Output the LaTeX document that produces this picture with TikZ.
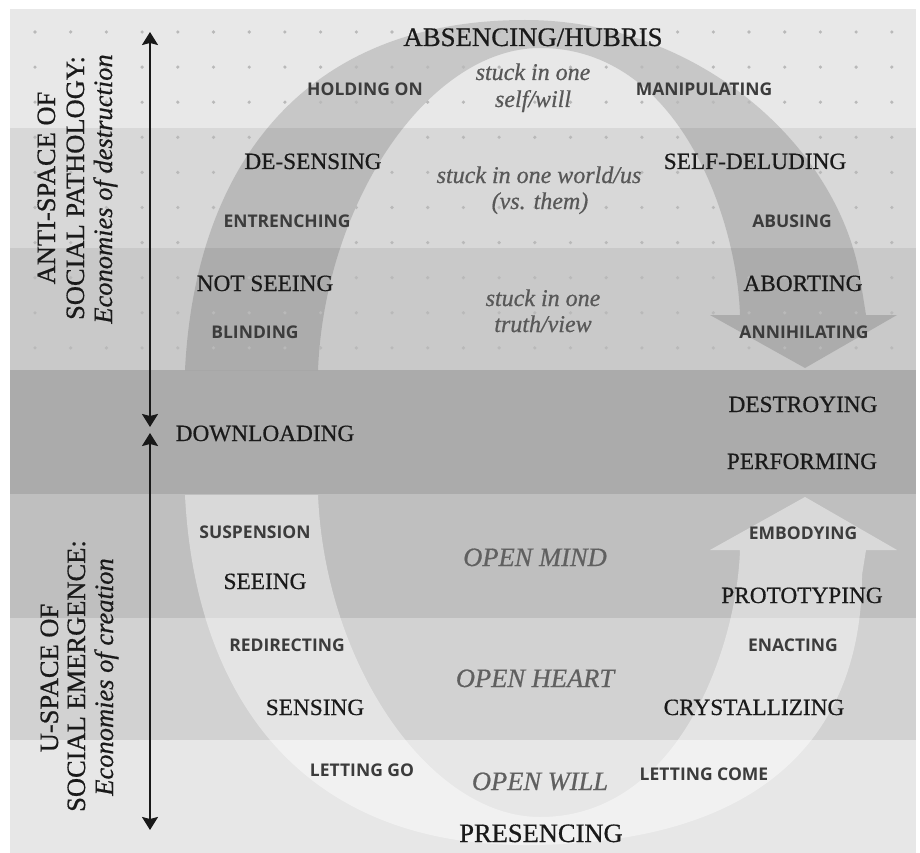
\documentclass[tikz,border=0pt]{standalone}
\usepackage{fontspec}
\setmainfont{Liberation Serif}[FakeBold=0.6]
\newfontfamily\labelsans{Open Sans}
\usetikzlibrary{arrows.meta}

\definecolor{bandA}{HTML}{E8E8E8}
\definecolor{bandB}{HTML}{D8D8D8}
\definecolor{bandC}{HTML}{C9C9C9}
\definecolor{bandD}{HTML}{ABABAB}
\definecolor{bandE}{HTML}{BFBFBF}
\definecolor{bandF}{HTML}{D2D2D2}
\definecolor{bandG}{HTML}{E7E7E7}
\definecolor{dotgray}{HTML}{B9B9B9}
\definecolor{capink}{HTML}{1A1A1A}
\definecolor{sansink}{HTML}{3C3C3C}
\definecolor{softink}{HTML}{585858}

\begin{document}
\begin{tikzpicture}[x=1pt,y=-1pt,
  serifcap/.style={font=\fontsize{23.3}{28}\selectfont, text=capink, anchor=base, inner sep=0pt},
  bigcap/.style={font=\fontsize{26.8}{30}\selectfont, text=capink, anchor=base, inner sep=0pt},
  sanscap/.style={font=\labelsans\bfseries\fontsize{17.5}{21}\selectfont, text=sansink, anchor=base, inner sep=0pt},
  stuckline/.style={font=\itshape\fontsize{24}{26}\selectfont, text=softink, anchor=base, inner sep=0pt},
  openline/.style={font=\itshape\fontsize{26.5}{30}\selectfont, text=softink!95, anchor=base, inner sep=0pt},
  sideline/.style={font=\fontsize{26.5}{30}\selectfont, text=capink, anchor=base, inner sep=0pt, rotate=90},
  sideital/.style={sideline, font=\itshape\fontsize{26.5}{30}\selectfont},
  axisarrow/.style={line width=2pt, draw=black!90,
    {Stealth[length=13pt,width=16pt,inset=2pt]}-{Stealth[length=13pt,width=16pt,inset=2pt]}}
]
\useasboundingbox (0,0) rectangle (920,853);
\fill[white] (0,0) rectangle (920,853);

% horizontal layers
\fill[bandA] (10,9)   rectangle (916,128);
\fill[bandB] (10,128) rectangle (916,248);
\fill[bandC] (10,248) rectangle (916,370);
\fill[bandD] (10,370) rectangle (916,494);
\fill[bandE] (10,494) rectangle (916,618);
\fill[bandF] (10,618) rectangle (916,740);
\fill[bandG] (10,740) rectangle (916,853);

% upper loop: arc bending over the top, ending in a downward arrow
\fill[black, opacity=0.14]
  (185,370) .. controls (195,170) and (300,20) .. (525,20)
  .. controls (700,20) and (845,150) .. (862,290)
  -- (866,315) -- (897,315) -- (805,368) -- (710,315) -- (740,315)
  .. controls (737,220) and (680,48) .. (540,48)
  .. controls (430,48) and (325,200) .. (318,370) -- cycle;

% lower loop: arc bending under the bottom, ending in an upward arrow
\fill[white, opacity=0.42]
  (185,495) .. controls (195,695) and (300,845) .. (525,845)
  .. controls (780,845) and (862,720) .. (862,575)
  -- (866,550) -- (897,550) -- (805,497) -- (710,550) -- (740,550)
  .. controls (737,645) and (680,817) .. (540,817)
  .. controls (430,817) and (325,665) .. (318,495) -- cycle;

% dot grid over the three upper layers
\foreach \i in {0,...,24}
  \foreach \j in {0,...,9}
    \fill[dotgray] ({35+35.7*\i},{32+35.1*\j}) circle[radius=1.8pt];

% vertical axes
\coordinate (antiTop) at (150,32);
\coordinate (antiBot) at (150,427);
\coordinate (uTop) at (150,433);
\coordinate (uBot) at (150,830);
\draw[axisarrow] (antiTop) -- (antiBot);
\draw[axisarrow] (uTop) -- (uBot);

% side titles
\node[sideline] (antiA) at (55,188) {ANTI-SPACE OF};
\node[sideline] (antiB) at (84,188) {SOCIAL PATHOLOGY:};
\node[sideital] (antiC) at (112,189) {Economies of destruction};
\node[sideline] (uA) at (58,678) {U-SPACE OF};
\node[sideline] (uB) at (85,676) {SOCIAL EMERGENCE:};
\node[sideital] (uC) at (113,677) {Economies of creation};

% top and bottom
\node[bigcap] (absencing) at (533,46) {ABSENCING/HUBRIS};
\node[bigcap, font=\fontsize{26.5}{30}\selectfont] (presencing) at (541,842) {PRESENCING};

% stages of the upper loop
\node[sanscap] (holding) at (365,96) {HOLDING ON};
\node[sanscap] (manip) at (704,96) {MANIPULATING};
\node[serifcap] (desensing) at (313,169) {DE-SENSING};
\node[serifcap] (selfdel) at (755,169) {SELF-DELUDING};
\node[sanscap] (entrench) at (287,227) {ENTRENCHING};
\node[sanscap] (abusing) at (792,227) {ABUSING};
\node[serifcap] (notseeing) at (265,291) {NOT SEEING};
\node[serifcap] (aborting) at (803,291) {ABORTING};
\node[sanscap] (blinding) at (255,338) {BLINDING};
\node[sanscap] (annihil) at (804,338) {ANNIHILATING};

% middle layer
\node[serifcap] (download) at (265,441) {DOWNLOADING};
\node[serifcap] (destroy) at (803,412) {DESTROYING};
\node[serifcap] (perform) at (802,469) {PERFORMING};

% stages of the lower loop
\node[sanscap] (suspend) at (255,538) {SUSPENSION};
\node[sanscap] (embody) at (803,539) {EMBODYING};
\node[serifcap] (seeing) at (265,589) {SEEING};
\node[serifcap] (proto) at (802,603) {PROTOTYPING};
\node[sanscap] (redirect) at (287,651) {REDIRECTING};
\node[sanscap] (enact) at (793,651) {ENACTING};
\node[serifcap] (sensing) at (315,715) {SENSING};
\node[serifcap] (crystal) at (754,715) {CRYSTALLIZING};
\node[sanscap] (lettinggo) at (362,776) {LETTING GO};
\node[sanscap] (lettingcome) at (704,780) {LETTING COME};

% inner captions
\node[stuckline] (willA) at (533,80) {stuck in one};
\node[stuckline] (willB) at (533,107) {self/will};
\node[stuckline] (worldA) at (539,183) {stuck in one world/us};
\node[stuckline] (worldB) at (540,209) {(vs. them)};
\node[stuckline] (truthA) at (543,306) {stuck in one};
\node[stuckline] (truthB) at (543,332) {truth/view};
\node[openline] (mind) at (535,566) {OPEN MIND};
\node[openline] (heart) at (535,687) {OPEN HEART};
\node[openline] (will) at (540,790) {OPEN WILL};
\end{tikzpicture}
\end{document}
